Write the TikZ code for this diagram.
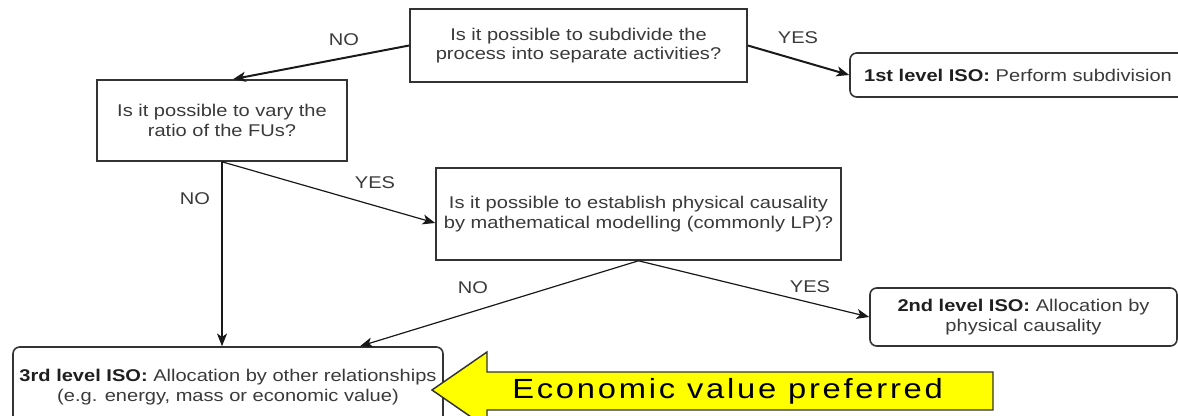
\documentclass[tikz,border=0pt]{standalone}
\usepackage{fontspec}
\setmainfont{Liberation Sans}[FakeStretch=1.18]
\newfontfamily\econfont{Liberation Sans}[FakeStretch=1.18,LetterSpace=10]
\usetikzlibrary{arrows.meta}
\definecolor{txt}{HTML}{3A3A3A}
\definecolor{edge}{HTML}{333333}
\definecolor{yel}{HTML}{FFFF00}
\tikzset{
  boxfont/.style={font=\fontsize{12.75pt}{14.8pt}\selectfont},
  qbox/.style={draw=edge, line width=1.2pt, fill=white, text=txt, align=center, boxfont, inner sep=0pt},
  rbox/.style={qbox, rounded corners=5pt},
  lbl/.style={text=txt, boxfont, inner sep=0pt},
  conn/.style={draw=black!90, line width=0.9pt, -{Stealth[length=9.5pt,width=7.5pt,inset=2.5pt]}},
  connthick/.style={conn, line width=1.5pt},
  yarrow/.style={draw=edge, line width=1.1pt, fill=yel, line join=miter}
}
\newcommand{\lvl}[1]{\textbf{\color{black!88}#1}}
\begin{document}
\begin{tikzpicture}[x=0.75pt,y=-0.75pt]
\useasboundingbox (0,0) rectangle (1178,416);
\clip (0,0) rectangle (1178,416);

% boxes
\node[qbox, minimum width=252.75pt, minimum height=54.75pt] (B1) at (578.5,45.5)
  {Is it possible to subdivide the\\process into separate activities?};
\node[qbox, minimum width=187.5pt, minimum height=60.75pt] (B2) at (222,120.5)
  {Is it possible to vary the\\ratio of the FUs?};
\node[qbox, minimum width=303.75pt, minimum height=69pt] (B3) at (638.5,214)
  {Is it possible to establish physical causality\\by mathematical modelling (commonly LP)?};
\node[rbox, minimum width=252pt, minimum height=33pt] (L1) at (1018,75)
  {\lvl{1st level ISO:} Perform subdivision};
\node[rbox, minimum width=230.25pt, minimum height=43.5pt] (L2) at (1023.5,317)
  {\lvl{2nd level ISO:} Allocation by\\physical causality};
\node[rbox, minimum width=322.5pt, minimum height=60pt] (L3) at (228,387)
  {\lvl{3rd level ISO:} Allocation by other relationships\\(e.g. energy, mass or economic value)};

% connectors
\draw[connthick] (B1.west) -- ([xshift=8.25pt]B2.north);
\draw[connthick] (B1.east) -- (L1.west);
\draw[conn] (B2.south) -- (B2.south |- L3.north);
\draw[conn] (B2.south) -- ([yshift=-6.75pt]B3.west);
\draw[conn] (B3.south) -- ([xshift=99pt]L3.north);
\draw[conn] (B3.south) -- (L2.west);

% labels
\node[lbl] (n1) at (344,40) {NO};
\node[lbl] (y1) at (798,38) {YES};
\node[lbl] (n2) at (195,199) {NO};
\node[lbl] (y2) at (375,183) {YES};
\node[lbl] (n3) at (473,288) {NO};
\node[lbl] (y3) at (810,287) {YES};

% yellow arrow
\draw[yarrow] (432,390) -- (487,352) -- (487,372) -- (993,372) -- (993,410)
  -- (487,410) -- (487,428) -- cycle;
\node[anchor=base west, inner sep=0pt, text=black] (econ) at (512,399)
  {\resizebox{323pt}{!}{\econfont\fontsize{19.2pt}{22pt}\selectfont Economic value preferred}};
\end{tikzpicture}
\end{document}
